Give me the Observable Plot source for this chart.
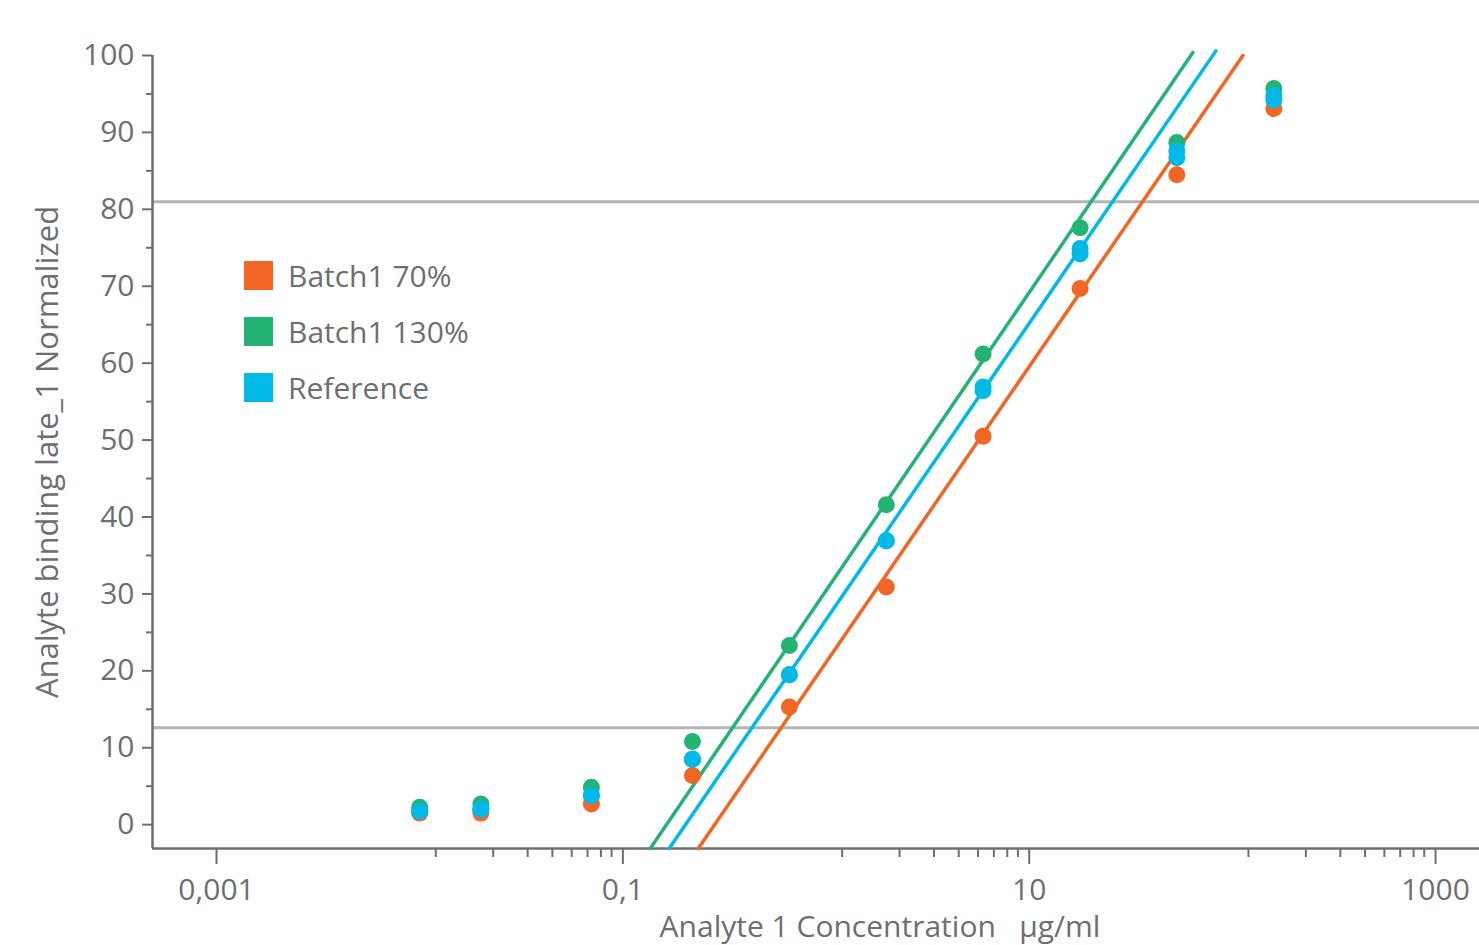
<!DOCTYPE html>
<html>
<head>
<meta charset="utf-8">
<script src="https://cdn.jsdelivr.net/npm/d3@7"></script>
<script src="https://cdn.jsdelivr.net/npm/@observablehq/plot@0.6"></script>
<style>
  body { margin: 0; background: #fff; }
  #wrap { position: relative; width: 1479px; height: 945px; overflow: hidden; font-family: "Open Sans", sans-serif; color: #6d6e71; }
  .legend { position: absolute; left: 244px; top: 261px; }
  .legend .item { display: flex; align-items: center; height: 29px; margin-bottom: 27px; font-size: 30px; white-space: nowrap; }
  .legend .sw { width: 29px; height: 29px; margin-right: 15px; flex: none; }
</style>
</head>
<body>
<div id="wrap"></div>
<script>
// ---- data ----
const seriesNames = ["Batch1 70%", "Batch1 130%", "Reference"];
const seriesColors = ["#f26522", "#23b474", "#00b9e6"];

const concentration = [0.01, 0.02, 0.07, 0.22, 0.66, 1.98, 5.93, 17.8, 53.3, 160];
const batch70  = [1.5, 1.5, 2.7, 6.4, 15.3, 30.9, 50.5, 69.7, 84.5, 93.1];
const batch130 = [2.25, 2.7, 4.85, 10.8, 23.3, 41.6, 61.2, 77.6, 88.7, 95.7];
const referenceA = [1.73, 2.0, 3.8, 8.5, 19.5, 36.9, 56.9, 74.9, 87.6, 94.8];
const referenceB = [1.73, 2.0, 3.8, 8.5, 19.5, 36.9, 56.4, 74.2, 86.7, 94.2];

// fitted linear segments (endpoints)
const fit70Conc  = [0.235, 112.7];
const fit130Conc = [0.1364, 63.9];
const fitRefConc = [0.169, 83.0];
const fit70Val  = [-3.1, 100.0];
const fit130Val = [-3.1, 100.4];
const fitRefVal = [-3.1, 100.6];

// horizontal reference limits
const limits = [81, 12.6];

// axes
const xDomain = [0.000484, 1646];
const yDomain = [-3.1, 100];
const xMajorTicks = [0.001, 0.1, 10, 1000];
const xMinorFractions = [0.12, 0.23, 0.34, 0.45, 0.56, 0.67, 0.78, 0.88];
const yMajorTicks = [0, 10, 20, 30, 40, 50, 60, 70, 80, 90, 100];
const yMinorTicks = [5, 15, 25, 35, 45, 55, 65, 75, 85, 95];
const xLabel = "Analyte 1 Concentration   µg/ml";
const yLabel = "Analyte binding late_1 Normalized";

// ---- build tables ----
const points = [];
const addSeries = (vals, s) => vals.forEach((v, i) => points.push({conc: concentration[i], value: v, series: s}));
addSeries(batch70, seriesNames[0]);
addSeries(batch130, seriesNames[1]);
addSeries(referenceA, seriesNames[2]);
addSeries(referenceB, seriesNames[2]);

const fits = [];
[[fit70Conc, fit70Val, 0], [fit130Conc, fit130Val, 1], [fitRefConc, fitRefVal, 2]].forEach(([c, v, s]) =>
  c.forEach((x, i) => fits.push({conc: x, value: v[i], series: seriesNames[s]})));

const xMinorTicks = xMajorTicks.slice(1).flatMap(m => xMinorFractions.map(f => m * f));

const axisColor = "#6d6e71";
const fmt = d => String(d).replace(".", ",");

const chart = Plot.plot({
  width: 1479,
  height: 945,
  marginLeft: 152,
  marginRight: 0,
  marginTop: 55,
  marginBottom: 97,
  style: {fontFamily: '"Open Sans", sans-serif', fontSize: "29px", color: axisColor, background: "#fff", overflow: "visible"},
  x: {type: "log", domain: xDomain},
  y: {domain: yDomain},
  color: {domain: seriesNames, range: seriesColors},
  marks: [
    Plot.ruleY(limits, {stroke: "#b3b4b6", strokeWidth: 3}),
    Plot.axisY({ticks: yMajorTicks, tickSize: 10, tickPadding: 8, strokeWidth: 2, label: null, fontSize: 30}),
    Plot.axisY({ticks: yMinorTicks, tickSize: 6, strokeWidth: 2, text: null, label: null}),
    Plot.axisX({ticks: xMajorTicks, tickSize: 16, tickPadding: 14, strokeWidth: 2, tickFormat: fmt, label: null, fontSize: 30}),
    Plot.axisX({ticks: xMinorTicks, tickSize: 9, strokeWidth: 2, text: null, label: null}),
    Plot.ruleX([xDomain[0]], {stroke: axisColor, strokeWidth: 2.5}),
    Plot.ruleY([yDomain[0]], {stroke: axisColor, strokeWidth: 2.5}),
    Plot.line(fits, {x: "conc", y: "value", z: "series", stroke: "series", strokeWidth: 3.5}),
    Plot.dot(points, {x: "conc", y: "value", fill: "series", r: 8.5, stroke: "none"}),
    Plot.text([yLabel], {frameAnchor: "left", textAnchor: "middle", dx: -104, rotate: -90, fontSize: 31, fill: axisColor}),
    Plot.text([xLabel], {frameAnchor: "bottom", textAnchor: "middle", dx: 64, dy: 88, fontSize: 30, fill: axisColor})
  ]
});

const wrap = document.getElementById("wrap");
wrap.appendChild(chart);

const legend = document.createElement("div");
legend.className = "legend";
seriesNames.forEach((n, i) => {
  const item = document.createElement("div");
  item.className = "item";
  const sw = document.createElement("span");
  sw.className = "sw";
  sw.style.background = seriesColors[i];
  const t = document.createElement("span");
  t.textContent = n;
  item.appendChild(sw);
  item.appendChild(t);
  legend.appendChild(item);
});
wrap.appendChild(legend);
</script>
</body>
</html>
